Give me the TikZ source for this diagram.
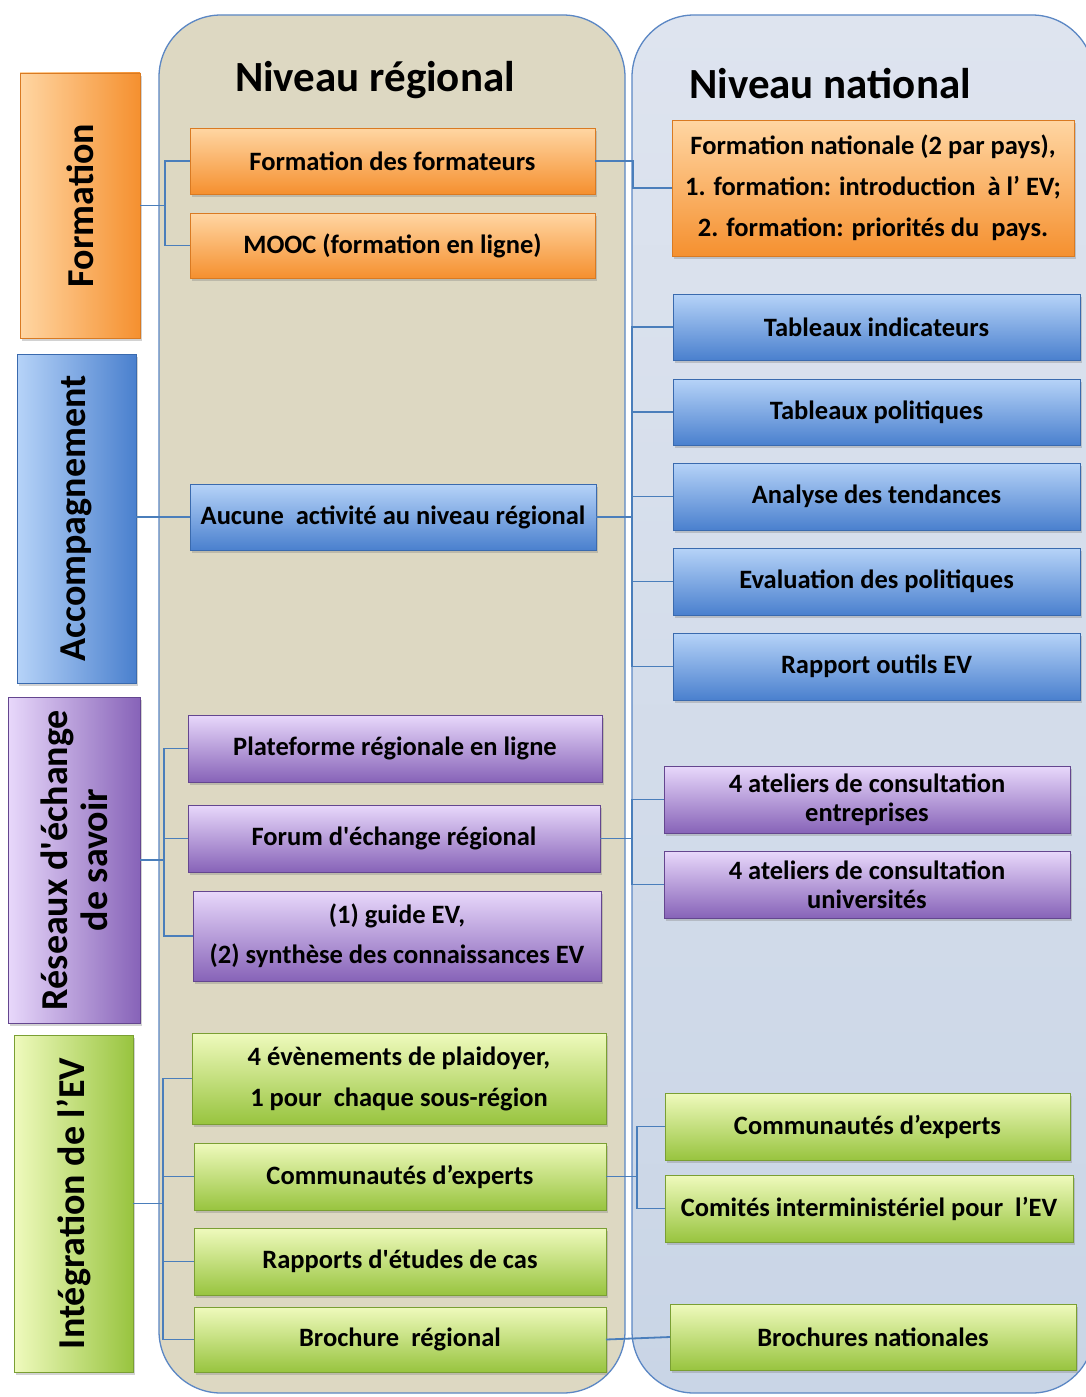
\documentclass[tikz,border=0pt]{standalone}
\usepackage{fontspec}
\setmainfont{Carlito}
\usetikzlibrary{shadows,calc}
\definecolor{conc}{HTML}{4A7EBB}
\definecolor{panB}{HTML}{5B87C4}
\definecolor{regF}{HTML}{DDD8C2}
\definecolor{natT}{HTML}{DEE4EF}
\definecolor{natB}{HTML}{C9D5E6}
\definecolor{orT}{HTML}{FFD6A3}
\definecolor{orB}{HTML}{F5902F}
\definecolor{orD}{HTML}{D97A22}
\definecolor{blT}{HTML}{B6D3F8}
\definecolor{blB}{HTML}{4A80CE}
\definecolor{blD}{HTML}{3A6AAE}
\definecolor{puT}{HTML}{E8D8FB}
\definecolor{puB}{HTML}{8763B8}
\definecolor{puD}{HTML}{64468F}
\definecolor{grT}{HTML}{EFFABD}
\definecolor{grB}{HTML}{98C43F}
\definecolor{grD}{HTML}{7A9F33}
\tikzset{
  panel/.style={draw=panB, line width=1.3pt, rounded corners=62pt},
  box/.style={inner sep=0pt, outer sep=0pt, align=center, line width=0.7pt,
    font=\fontsize{26.5}{29}\selectfont\bfseries,
    drop shadow={opacity=0.35, shadow xshift=2pt, shadow yshift=-3pt}},
  obox/.style={box, top color=orT, bottom color=orB, draw=orD},
  bbox/.style={box, top color=blT, bottom color=blB, draw=blD},
  pbox/.style={box, top color=puT, bottom color=puB, draw=puD},
  gbox/.style={box, top color=grT, bottom color=grB, draw=grD},
  lbl/.style={box, rotate=90, font=\fontsize{38}{40}\selectfont\bfseries},
  olbl/.style={lbl, left color=orT, right color=orB, draw=orD},
  blbl/.style={lbl, left color=blT, right color=blB, draw=blD},
  plbl/.style={lbl, left color=puT, right color=puB, draw=puD},
  glbl/.style={lbl, left color=grT, right color=grB, draw=grD},
  con/.style={draw=conc, line width=1.8pt},
  head/.style={font=\fontsize{43}{46}\selectfont\bfseries, inner sep=0pt}
}
\begin{document}
\begin{tikzpicture}[x=1pt,y=-1pt]
\path[use as bounding box, clip] (0,0) rectangle (1086,1397);
\fill[white] (0,0) rectangle (1086,1397);
% panels
\path[panel, fill=regF] (159,15) rectangle (625,1393);
\path[panel, top color=natT, bottom color=natB] (632,15) rectangle (1094,1393);
\node[head] (hR) at (375,80) {Niveau régional};
\node[head] (hN) at (830,84) {Niveau national};
% category labels
\node[olbl, minimum width=265, minimum height=120] (fL) at (80,205.5) {Formation};
\node[blbl, minimum width=329, minimum height=119] (aL) at (76.5,518.5) {Accompagnement};
\node[plbl, minimum width=326, minimum height=132] (rL) at (74,860) {Réseaux d\textquotesingle échange\\de savoir};
\node[glbl, minimum width=337, minimum height=119] (iL) at (73.5,1203.5) {Intégration de l’EV};
% regional boxes
\node[obox, minimum width=405, minimum height=66] (ffm) at (392.5,161) {Formation des formateurs};
\node[obox, minimum width=405, minimum height=65] (mooc) at (392.5,245.5) {MOOC (formation en ligne)};
\node[bbox, minimum width=406, minimum height=66] (auc) at (393,517) {Aucune\ \ activité au niveau régional};
\node[pbox, minimum width=414, minimum height=67] (pl) at (395,748.5) {Plateforme régionale en ligne};
\node[pbox, minimum width=412, minimum height=67] (fo) at (394,838.5) {Forum d\textquotesingle échange régional};
\node[pbox, minimum width=408, minimum height=90, font=\fontsize{26.5}{40}\selectfont\bfseries] (gu) at (397,936) {(1) guide EV,\\(2) synthèse des connaissances EV};
\node[gbox, minimum width=414, minimum height=91, font=\fontsize{26.5}{41}\selectfont\bfseries] (ev) at (399,1078.5) {4 évènements de plaidoyer,\\1 pour\ \ chaque sous-région};
\node[gbox, minimum width=412, minimum height=67] (ce) at (400,1176.5) {Communautés d’experts};
\node[gbox, minimum width=412, minimum height=67] (ra) at (400,1261.5) {Rapports d\textquotesingle études de cas};
\node[gbox, minimum width=412, minimum height=65] (br) at (400,1339.5) {Brochure\ \ régional};
% national boxes
\node[obox, minimum width=402, minimum height=136, font=\fontsize{26.5}{41}\selectfont\bfseries] (fnat) at (873,188) {Formation nationale (2 par pays),\\1. formation: introduction\ \ à l’ EV;\\2. formation: priorités du\ \ pays.};
\node[bbox, minimum width=407, minimum height=66] (ti) at (876.5,327) {Tableaux indicateurs};
\node[bbox, minimum width=407, minimum height=66] (tp) at (876.5,412) {Tableaux politiques};
\node[bbox, minimum width=407, minimum height=67] (an) at (876.5,496.5) {Analyse des tendances};
\node[bbox, minimum width=407, minimum height=67] (evp) at (876.5,581.5) {Evaluation des politiques};
\node[bbox, minimum width=407, minimum height=67] (ro) at (876.5,666.5) {Rapport outils EV};
\node[pbox, minimum width=406, minimum height=67] (at1) at (867,799.5) {4 ateliers de consultation\\entreprises};
\node[pbox, minimum width=406, minimum height=67] (at2) at (867,884.5) {4 ateliers de consultation\\universités};
\node[gbox, minimum width=405, minimum height=67] (cen) at (867.5,1126.5) {Communautés d’experts};
\node[gbox, minimum width=408, minimum height=67] (com) at (869,1208.5) {Comités interministériel pour\ \ l’EV};
\node[gbox, minimum width=406, minimum height=66] (brn) at (873,1337) {Brochures nationales};
% junctions
\coordinate (jF) at (165,205.5);
\coordinate (jFN) at (633,161);
\coordinate (jA) at (632,517);
\coordinate (jR) at (164,860);
\coordinate (jFo) at (632,838.5);
\coordinate (jI) at (163,1203.5);
\coordinate (jC) at (637,1176.5);
% connectors
\draw[con] (fL.south) -- (jF);
\draw[con] (jF) |- (ffm.west);
\draw[con] (jF) |- (mooc.west);
\draw[con] (ffm.east) -- (jFN) |- (fnat.west);
\draw[con] (auc.west) -- (auc.west -| aL.south);
\draw[con] (auc.east) -- (jA);
\draw[con] (jA) |- (ti.west);
\draw[con] (jA) |- (tp.west);
\draw[con] (jA) |- (an.west);
\draw[con] (jA) |- (evp.west);
\draw[con] (jA) |- (ro.west);
\draw[con] (rL.south) -- (jR);
\draw[con] (jR) |- (pl.west);
\draw[con] (jR) |- (fo.west);
\draw[con] (jR) |- (gu.west);
\draw[con] (fo.east) -- (jFo);
\draw[con] (jFo) |- (at1.west);
\draw[con] (jFo) |- (at2.west);
\draw[con] (iL.south) -- (jI);
\draw[con] (jI) |- (ev.west);
\draw[con] (jI) |- (ce.west);
\draw[con] (jI) |- (ra.west);
\draw[con] (jI) |- (br.west);
\draw[con] (ce.east) -- (jC);
\draw[con] (jC) |- (cen.west);
\draw[con] (jC) |- (com.west);
\draw[con] (br.east) -- (brn.west);
\end{tikzpicture}
\end{document}
